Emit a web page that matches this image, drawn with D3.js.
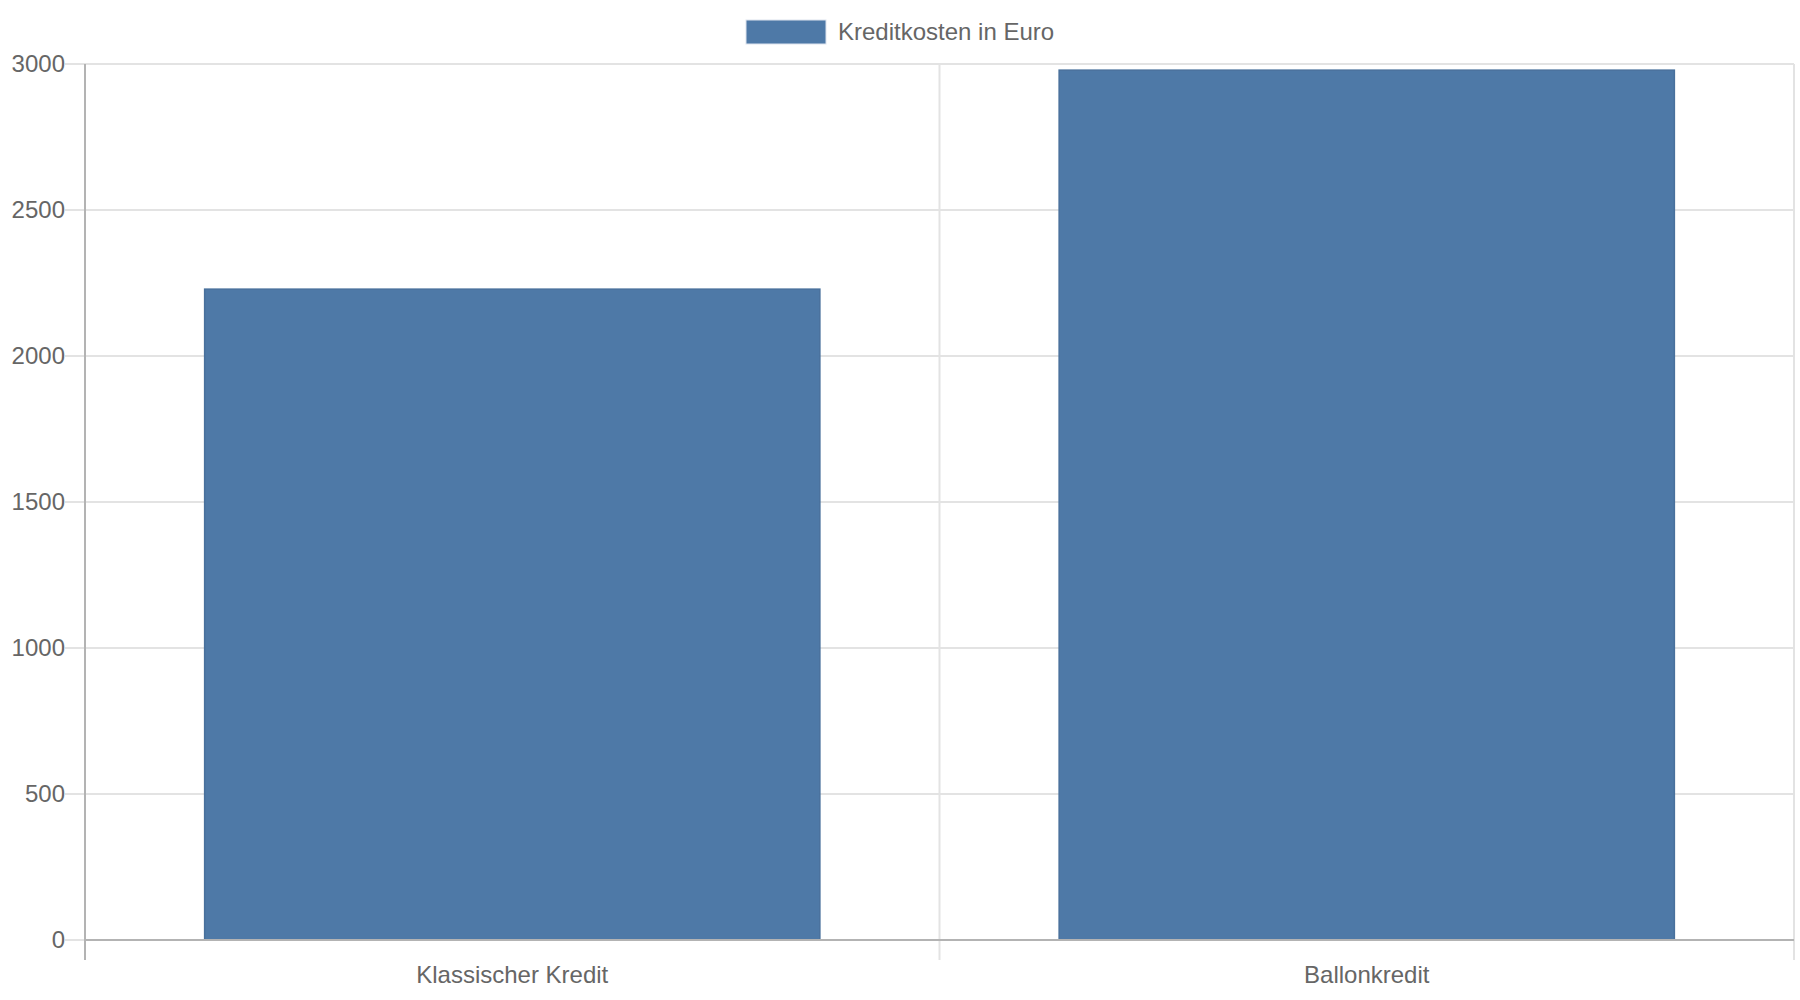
<!DOCTYPE html>
<html lang="de">
<head>
<meta charset="UTF-8">
<title>Kreditkosten</title>
<script src="https://d3js.org/d3.v7.min.js"></script>
<style>
  body { margin: 0; background: #fff; }
  svg { display: block; font-family: "Liberation Sans", Arial, sans-serif; }
  .tick text { fill: #666; }
</style>
</head>
<body>
<div id="chart"></div>
<script>
const categories = ["Klassischer Kredit", "Ballonkredit"];
const values = [2229, 2979];
const yTicks = [0, 500, 1000, 1500, 2000, 2500, 3000];
const seriesLabel = "Kreditkosten in Euro";

const width = 1800, height = 1000;
const margin = { top: 64, right: 6, bottom: 60, left: 85 };
const barColor = "#4e79a7";
const fontSize = 24;

const svg = d3.select("#chart").append("svg")
    .attr("width", width)
    .attr("height", height);

const x = d3.scaleBand()
    .domain(categories)
    .range([margin.left, width - margin.right]);

const y = d3.scaleLinear()
    .domain([0, 3000])
    .range([height - margin.bottom, margin.top]);

// horizontal grid
svg.append("g")
    .selectAll("line")
    .data(yTicks)
    .join("line")
    .attr("x1", margin.left - 20)
    .attr("x2", width - margin.right)
    .attr("y1", d => y(d))
    .attr("y2", d => y(d))
    .attr("stroke", "#e3e3e3")
    .attr("stroke-width", 2);

// vertical grid at category boundaries
const bounds = categories.map(c => x(c)).concat([x(categories[categories.length - 1]) + x.bandwidth()]);
svg.append("g")
    .selectAll("line")
    .data(bounds.slice(1))
    .join("line")
    .attr("x1", d => d)
    .attr("x2", d => d)
    .attr("y1", margin.top)
    .attr("y2", y(0) + 20)
    .attr("stroke", "#e3e3e3")
    .attr("stroke-width", 2);

// bars
svg.append("g")
    .selectAll("rect")
    .data(values)
    .join("rect")
    .attr("x", (d, i) => x(categories[i]) + x.bandwidth() * 0.14)
    .attr("width", x.bandwidth() * 0.72)
    .attr("y", d => y(d))
    .attr("height", d => y(0) - y(d))
    .attr("fill", barColor)
    .attr("stroke", "#48709c")
    .attr("stroke-width", 1.5);

// y axis
const yAxis = d3.axisLeft(y).tickValues(yTicks).tickFormat(d3.format("d")).tickSize(0).tickPadding(20);
svg.append("g")
    .attr("transform", `translate(${margin.left},0)`)
    .call(yAxis)
    .call(g => g.select(".domain").remove())
    .call(g => g.selectAll("text").attr("font-size", fontSize).attr("font-family", "Liberation Sans, Arial, sans-serif"));

svg.append("line")
    .attr("x1", margin.left).attr("x2", margin.left)
    .attr("y1", margin.top).attr("y2", y(0) + 20)
    .attr("stroke", "#b3b3b3").attr("stroke-width", 2);

// x axis
const xAxis = d3.axisBottom(x).tickSize(0).tickPadding(26);
svg.append("g")
    .attr("transform", `translate(0,${y(0)})`)
    .call(xAxis)
    .call(g => g.select(".domain").remove())
    .call(g => g.selectAll("text").attr("font-size", fontSize).attr("font-family", "Liberation Sans, Arial, sans-serif"));

svg.append("line")
    .attr("x1", margin.left).attr("x2", width - margin.right)
    .attr("y1", y(0)).attr("y2", y(0))
    .attr("stroke", "#b3b3b3").attr("stroke-width", 2);

// legend
const legend = svg.append("g").attr("transform", "translate(746,20)");
legend.append("rect")
    .attr("width", 80).attr("height", 24)
    .attr("fill", barColor)
    .attr("stroke", "#dde4ee").attr("stroke-width", 1);
legend.append("text")
    .attr("x", 92).attr("y", 12)
    .attr("dy", "0.35em")
    .attr("font-size", fontSize)
    .attr("fill", "#666")
    .text(seriesLabel);
</script>
</body>
</html>
